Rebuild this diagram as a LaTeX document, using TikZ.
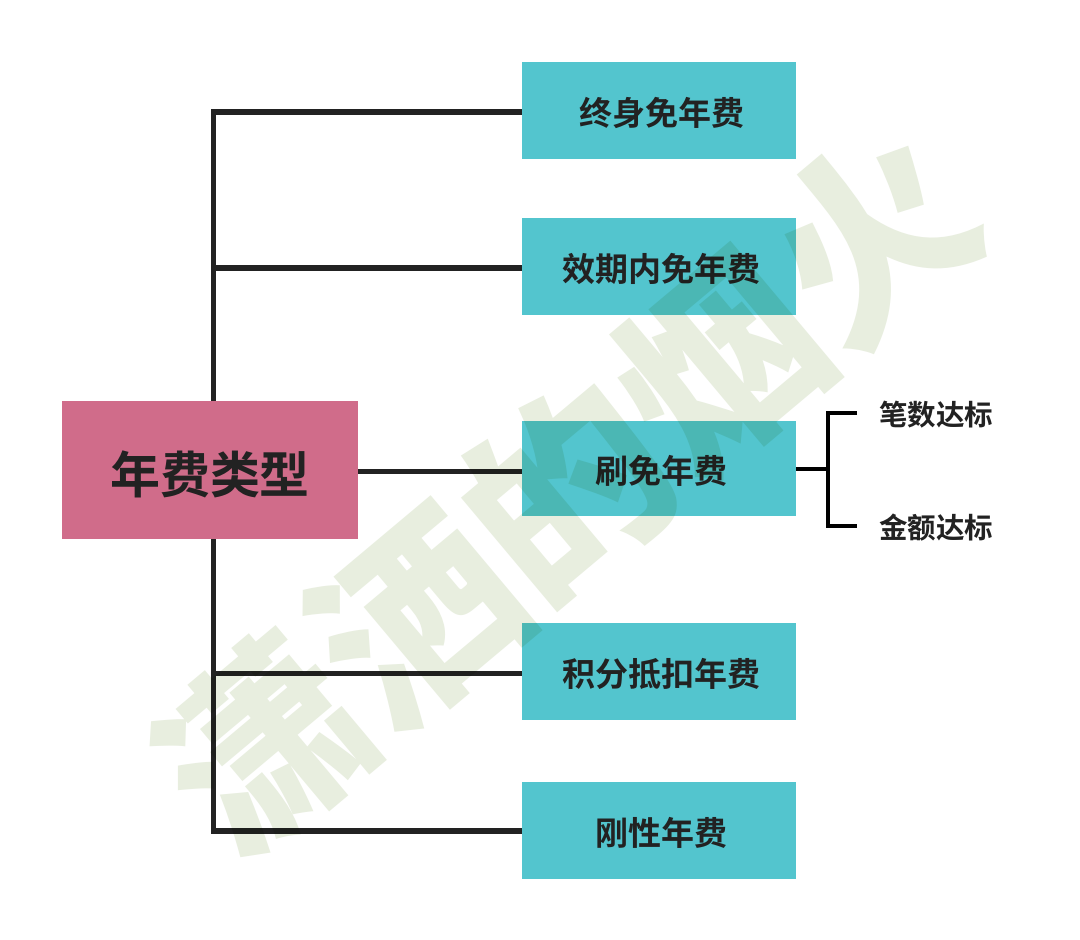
\documentclass[tikz,border=0pt]{standalone}
\usepackage{fontspec}
\setmainfont{Noto Sans CJK SC}[BoldFont={Noto Sans CJK SC Bold}]
\newfontfamily\wmfont{Noto Sans CJK SC Black}
\definecolor{tealbox}{HTML}{53C5CE}
\definecolor{rosebox}{HTML}{D06C8A}
\definecolor{linedark}{HTML}{222222}
\definecolor{wmgreen}{HTML}{E8EEDF}
\tikzset{
  kindbox/.style={fill=tealbox, text=linedark, minimum width=274pt, minimum height=97pt, inner sep=0pt, text height=32pt, text depth=2pt, execute at begin node=\hspace*{5pt}, font=\fontsize{33}{36}\selectfont\bfseries},
  rootbox/.style={fill=rosebox, text=linedark, minimum width=296pt, minimum height=138pt, inner sep=0pt, text height=48pt, text depth=2pt, font=\fontsize{50}{54}\selectfont\bfseries},
  sublabel/.style={text=linedark, inner sep=0pt, font=\fontsize{28.5}{32}\selectfont\bfseries},
  trunk/.style={draw=linedark, line width=5.5pt},
  twig/.style={draw=black, line width=4pt}
}
\begin{document}
\begin{tikzpicture}[x=1pt,y=-1pt]
\useasboundingbox (0,0) rectangle (1080,940);
\fill[white] (0,0) rectangle (1080,940);

\node[rootbox] (root) at (210,470) {年费类型};

\node[kindbox] (lifetime) at (659,110) {终身免年费};
\node[kindbox] (valid) at (659,266.5) {效期内免年费};
\node[kindbox, minimum height=95pt] (swipe) at (659,468.5) {刷免年费};
\node[kindbox] (points) at (659,671.5) {积分抵扣年费};
\node[kindbox] (rigid) at (659,830) {刚性年费};

\node[sublabel] (count) at (936,415) {笔数达标};
\node[sublabel] (amount) at (936,528) {金额达标};

\coordinate (rootTop) at (213.5,401);
\coordinate (rootBot) at (213.5,539);
\coordinate (rootRight) at (358,471.5);

% lines from the root
\draw[trunk] (rootTop) |- (lifetime.west |- 0,112);
\draw[trunk] (213.5,268) -- (valid.west |- 0,268);
\draw[trunk] (rootRight) -- (swipe.west |- rootRight);
\draw[trunk] (rootBot) |- (rigid.west |- 0,831);
\draw[trunk] (213.5,673.5) -- (points.west |- 0,673.5);

% bracket on the right
\coordinate (brace) at (828,469);
\draw[twig] (swipe.east |- brace) -- (brace);
\draw[twig] (857,413) -| (brace) |- (857,526);

% watermark
\begin{scope}[blend mode=multiply]
\node[rotate=40, text=wmgreen, inner sep=0pt, font=\wmfont\fontsize{198}{200}\selectfont] (mark) at (567,490) {潇洒的烟火};
\end{scope}

\end{tikzpicture}
\end{document}
